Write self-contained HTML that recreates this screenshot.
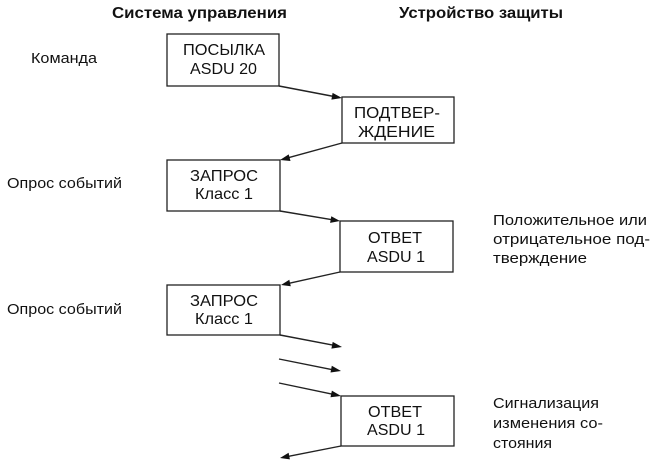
<!DOCTYPE html>
<html>
<head>
<meta charset="utf-8">
<style>
  html, body { margin: 0; padding: 0; background: #fff; }
  svg { display: block; }
  text { font-family: "Liberation Sans", "Noto Sans CJK SC", sans-serif; fill: #111; }
  .h { font-weight: bold; font-size: 16px; }
  .l { font-size: 15px; }
  .b { font-size: 16px; }
  rect { fill: #fff; stroke: #222; stroke-width: 1.3; }
  line { stroke: #222; stroke-width: 1.4; }
  polygon { fill: #111; }
</style>
</head>
<body>
<svg width="654" height="468" viewBox="0 0 654 468" xmlns="http://www.w3.org/2000/svg">
  <!-- headings -->
  <text class="h" x="112" y="18" textLength="175" lengthAdjust="spacingAndGlyphs">Система управления</text>
  <text class="h" x="399" y="18" textLength="164" lengthAdjust="spacingAndGlyphs">Устройство защиты</text>

  <!-- left labels -->
  <text class="l" x="31" y="63" textLength="66" lengthAdjust="spacingAndGlyphs">Команда</text>
  <text class="l" x="7" y="188" textLength="115" lengthAdjust="spacingAndGlyphs">Опрос событий</text>
  <text class="l" x="7" y="314" textLength="115" lengthAdjust="spacingAndGlyphs">Опрос событий</text>

  <!-- right labels -->
  <text class="l" x="493" y="225" textLength="154" lengthAdjust="spacingAndGlyphs">Положительное или</text>
  <text class="l" x="493" y="244" textLength="157" lengthAdjust="spacingAndGlyphs">отрицательное под-</text>
  <text class="l" x="493" y="263" textLength="94" lengthAdjust="spacingAndGlyphs">тверждение</text>
  <text class="l" x="493" y="408" textLength="106" lengthAdjust="spacingAndGlyphs">Сигнализация</text>
  <text class="l" x="493" y="428" textLength="110" lengthAdjust="spacingAndGlyphs">изменения со-</text>
  <text class="l" x="493" y="448" textLength="59" lengthAdjust="spacingAndGlyphs">стояния</text>

  <!-- boxes -->
  <rect x="167" y="34" width="112" height="52"/>
  <text class="b" x="183" y="55" textLength="82" lengthAdjust="spacingAndGlyphs">ПОСЫЛКА</text>
  <text class="b" x="190" y="74" textLength="67" lengthAdjust="spacingAndGlyphs">ASDU 20</text>

  <rect x="342" y="97" width="112" height="46"/>
  <text class="b" x="354" y="118" textLength="86" lengthAdjust="spacingAndGlyphs">ПОДТВЕР-</text>
  <text class="b" x="358" y="137" textLength="77" lengthAdjust="spacingAndGlyphs">ЖДЕНИЕ</text>

  <rect x="167" y="160" width="113" height="51"/>
  <text class="b" x="190" y="181" textLength="68" lengthAdjust="spacingAndGlyphs">ЗАПРОС</text>
  <text class="b" x="195" y="199" textLength="58" lengthAdjust="spacingAndGlyphs">Класс 1</text>

  <rect x="340" y="221" width="113" height="51"/>
  <text class="b" x="368" y="243" textLength="54" lengthAdjust="spacingAndGlyphs">ОТВЕТ</text>
  <text class="b" x="367" y="262" textLength="58" lengthAdjust="spacingAndGlyphs">ASDU 1</text>

  <rect x="167" y="285" width="113" height="50"/>
  <text class="b" x="190" y="306" textLength="68" lengthAdjust="spacingAndGlyphs">ЗАПРОС</text>
  <text class="b" x="195" y="324" textLength="58" lengthAdjust="spacingAndGlyphs">Класс 1</text>

  <rect x="341" y="396" width="113" height="50"/>
  <text class="b" x="368" y="417" textLength="54" lengthAdjust="spacingAndGlyphs">ОТВЕТ</text>
  <text class="b" x="367" y="435" textLength="58" lengthAdjust="spacingAndGlyphs">ASDU 1</text>

  <!-- arrows -->
  <line x1="279" y1="86" x2="334" y2="96.5"/>
  <line x1="342" y1="143" x2="288" y2="157.8"/>
  <line x1="280" y1="211" x2="332" y2="219.7"/>
  <line x1="340" y1="272" x2="289" y2="283.3"/>
  <line x1="280" y1="335" x2="334" y2="345.3"/>
  <line x1="279" y1="359" x2="333" y2="369.8"/>
  <line x1="279" y1="383" x2="333" y2="394.3"/>
  <line x1="341" y1="446" x2="288" y2="456.4"/>

  <!-- arrowheads -->
  <polygon points="342,98 332.6,92.9 331.4,99.6"/>
  <polygon points="280,160 288.7,154.4 290.5,161"/>
  <polygon points="340,221 331.3,216.2 330.1,222.9"/>
  <polygon points="281,285 289.3,279.7 290.8,286.3"/>
  <polygon points="342,347 332.7,341.9 331.4,348.6"/>
  <polygon points="341,371 331.8,365.8 330.5,372.5"/>
  <polygon points="341,396 331.9,390.6 330.5,397.3"/>
  <polygon points="280,458 288.6,452.7 289.9,459.4"/>
</svg>
</body>
</html>
